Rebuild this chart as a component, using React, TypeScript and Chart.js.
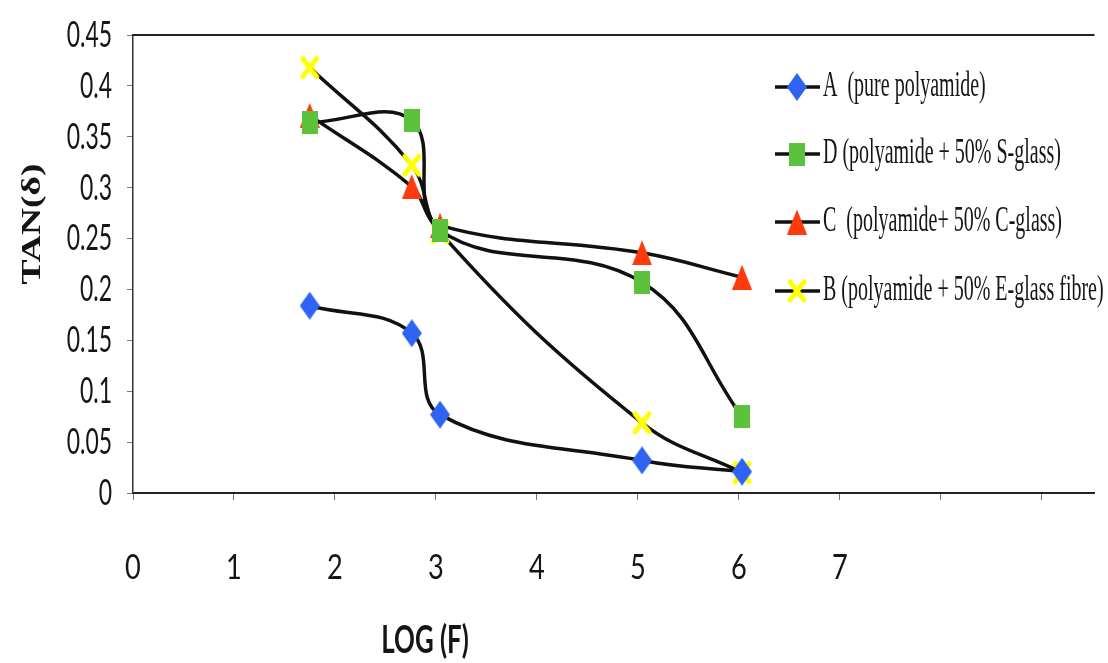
import React, { useEffect, useRef } from 'react';
import { Chart, registerables } from 'chart.js';

Chart.register(...registerables);

// ---- data ----
const LOG_F = [1.75, 2.76, 3.04, 5.04, 6.03];
const SERIES_A = [0.184, 0.157, 0.077, 0.032, 0.021];
const SERIES_D = [0.364, 0.366, 0.258, 0.207, 0.075];
const SERIES_C = [0.371, 0.301, 0.263, 0.236, 0.212];
const SERIES_B = [0.418, 0.322, 0.256, 0.069, 0.02];
const SERIES_LABELS = [
  'A  (pure polyamide)',
  'D (polyamide + 50% S-glass)',
  'C  (polyamide+ 50% C-glass)',
  'B (polyamide + 50% E-glass fibre)',
];
const X_TICKS = [0, 1, 2, 3, 4, 5, 6, 7];
const X_TICK_LABELS = ['0', '1', '2', '3', '4', '5', '6', '7'];
const Y_TICKS = [0, 0.05, 0.1, 0.15, 0.2, 0.25, 0.3, 0.35, 0.4, 0.45];
const Y_TICK_LABELS = ['0', '0.05', '0.1', '0.15', '0.2', '0.25', '0.3', '0.35', '0.4', '0.45'];
const X_TITLE = 'LOG (F)';
const Y_TITLE = 'TAN(\u03b4)';

function makeMarker(kind: string): HTMLCanvasElement {
  const c = document.createElement('canvas');
  const ctx = c.getContext('2d')!;
  if (kind === 'diamond') {
    c.width = 20; c.height = 28;
    ctx.fillStyle = '#2f64f2';
    ctx.beginPath();
    ctx.moveTo(10, 0); ctx.lineTo(20, 14); ctx.lineTo(10, 28); ctx.lineTo(0, 14);
    ctx.closePath(); ctx.fill();
  } else if (kind === 'square') {
    c.width = 16; c.height = 23;
    ctx.fillStyle = '#5cc23c';
    ctx.fillRect(0, 0, 16, 23);
  } else if (kind === 'triangle') {
    c.width = 20; c.height = 25;
    ctx.fillStyle = '#ff3a0c';
    ctx.beginPath();
    ctx.moveTo(10, 0); ctx.lineTo(20, 25); ctx.lineTo(0, 25);
    ctx.closePath(); ctx.fill();
  } else {
    c.width = 22; c.height = 26;
    ctx.strokeStyle = '#ffff00';
    ctx.lineWidth = 5;
    ctx.lineCap = 'round';
    ctx.beginPath();
    ctx.moveTo(4, 4); ctx.lineTo(18, 22);
    ctx.moveTo(18, 4); ctx.lineTo(4, 22);
    ctx.stroke();
  }
  return c;
}

function drawText(
  ctx: CanvasRenderingContext2D, text: string, x: number, y: number, font: string,
  sx: number, sy: number, align: CanvasTextAlign, rot = 0
) {
  ctx.save();
  ctx.translate(x, y);
  if (rot) ctx.rotate(rot);
  ctx.scale(sx, sy);
  ctx.font = font;
  ctx.textAlign = align;
  ctx.textBaseline = 'middle';
  ctx.fillStyle = '#151515';
  ctx.fillText(text, 0, 0);
  ctx.restore();
}

export default function App() {
  const ref = useRef<HTMLCanvasElement | null>(null);

  useEffect(() => {
    document.body.style.margin = '0';
    const canvas = ref.current;
    if (!canvas) return;
    const markers = {
      A: makeMarker('diamond'),
      D: makeMarker('square'),
      C: makeMarker('triangle'),
      B: makeMarker('x'),
    };
    const toPts = (ys: number[]) => LOG_F.map((x, i) => ({ x, y: ys[i] }));
    const mk = (label: string, ys: number[], marker: HTMLCanvasElement) => ({
      label,
      data: toPts(ys),
      borderColor: '#111111',
      borderWidth: 3.5,
      tension: 0.4,
      pointStyle: marker,
      pointRadius: 10,
      pointHoverRadius: 10,
      showLine: true,
      fill: false,
    });

    const textPlugin = {
      id: 'textPlugin',
      beforeDatasetsDraw(chart: any) {
        const { ctx, chartArea } = chart;
        ctx.save();
        ctx.strokeStyle = '#222';
        ctx.lineWidth = 2;
        ctx.beginPath();
        ctx.moveTo(chartArea.left, chartArea.top);
        ctx.lineTo(chartArea.right, chartArea.top);
        ctx.stroke();
        ctx.restore();
      },
      afterDraw(chart: any) {
        const ctx = chart.ctx as CanvasRenderingContext2D;
        const xs = chart.scales.x;
        const ys = chart.scales.y;
        Y_TICKS.forEach((v, i) => {
          drawText(ctx, Y_TICK_LABELS[i], 112, ys.getPixelForValue(v), '37px Lato', 0.62, 1, 'right');
        });
        X_TICKS.forEach((v, i) => {
          drawText(ctx, X_TICK_LABELS[i], xs.getPixelForValue(v), 568, '34px Lato', 0.8, 1, 'center');
        });
        drawText(ctx, X_TITLE, 425, 641, 'bold 38px Lato', 0.68, 1, 'center');
        drawText(ctx, Y_TITLE, 33, 224, '600 30px "Liberation Serif"', 1.25, 0.9, 'center', -Math.PI / 2);

        // legend
        const rows = [87, 154, 222, 291];
        const keys: (keyof typeof markers)[] = ['A', 'D', 'C', 'B'];
        rows.forEach((ry, i) => {
          ctx.save();
          ctx.strokeStyle = '#111';
          ctx.lineWidth = 3.5;
          ctx.beginPath();
          ctx.moveTo(775, ry);
          ctx.lineTo(820, ry);
          ctx.stroke();
          const m = markers[keys[i]];
          ctx.drawImage(m, 797 - m.width / 2, ry - m.height / 2);
          ctx.restore();
          drawText(ctx, SERIES_LABELS[i], 823, ry, '20px "Liberation Serif"', 1, 1.75, 'left');
        });
      },
    };

    const chart = new Chart(canvas, {
      type: 'line',
      data: {
        datasets: [
          mk(SERIES_LABELS[0], SERIES_A, markers.A),
          mk(SERIES_LABELS[1], SERIES_D, markers.D),
          mk(SERIES_LABELS[2], SERIES_C, markers.C),
          mk(SERIES_LABELS[3], SERIES_B, markers.B),
        ] as any,
      },
      options: {
        responsive: false,
        animation: false,
        devicePixelRatio: 1,
        layout: { padding: { top: 35, left: 0, right: 0, bottom: 0 } },
        plugins: { legend: { display: false }, tooltip: { enabled: false } },
        scales: {
          x: {
            type: 'linear',
            min: 0,
            max: 9.52,
            ticks: { display: false, stepSize: 1, includeBounds: false },
            grid: { drawOnChartArea: false, drawTicks: true, tickLength: 7, tickColor: '#777', tickWidth: 1 },
            border: { display: true, color: '#222', width: 2 },
            afterFit: (s: any) => { s.height = 170; },
          },
          y: {
            type: 'linear',
            min: 0,
            max: 0.45,
            ticks: { display: false, stepSize: 0.05 },
            grid: { drawOnChartArea: false, drawTicks: true, tickLength: 6, tickColor: '#777', tickWidth: 1 },
            border: { display: true, color: '#333', width: 1.5 },
            afterFit: (s: any) => { s.width = 133; },
          },
        },
      },
      plugins: [textPlugin],
    });
    return () => chart.destroy();
  }, []);

  return (
    <div style={{ width: 1108, height: 663, background: '#fff' }}>
      <canvas ref={ref} width={1108} height={663} />
    </div>
  );
}
